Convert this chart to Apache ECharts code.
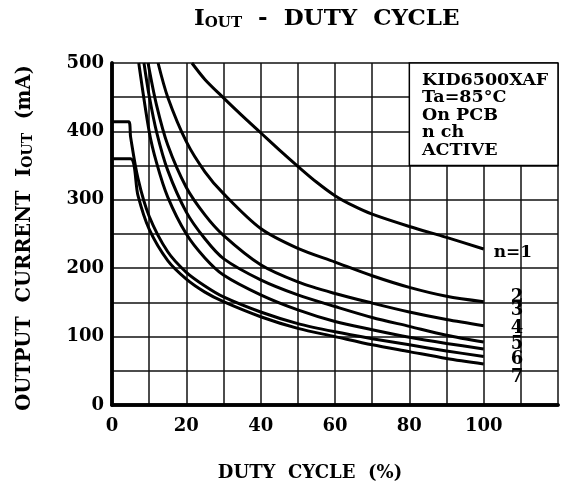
<!DOCTYPE html>
<html>
<head>
<meta charset="utf-8">
<script src="https://cdn.jsdelivr.net/npm/echarts@6/dist/echarts.min.js"></script>
<style>
html,body{margin:0;padding:0;background:#fff}
#chart{width:562px;height:490px}
</style>
</head>
<body>
<div id="chart"></div>
<script>
// curve data (duty %, mA)
var duty1 = [21.5, 25, 30, 35, 40, 45, 50, 55, 60, 65, 70, 80, 90, 100];
var iout1 = [500, 476, 449, 423, 398, 373, 349, 326, 306, 291, 279, 261, 245, 228];
var duty2 = [12.4, 15, 20, 25, 30, 40, 50, 60, 70, 80, 90, 100];
var iout2 = [500, 450, 385, 341, 309, 258, 229, 209, 189, 172, 159, 151];
var duty3 = [9.7, 12, 15, 20, 25, 30, 40, 50, 60, 70, 80, 90, 100];
var iout3 = [500, 438, 380, 318, 278, 248, 205, 180, 163, 149, 136, 125, 116];
var duty4 = [8.6, 10, 12, 15, 20, 25, 30, 40, 50, 60, 70, 80, 90, 100];
var iout4 = [500, 452, 399, 343, 282, 243, 214, 183, 161, 144, 128, 115, 102, 92];
var duty5 = [7.2, 10, 12, 15, 20, 25, 30, 40, 50, 60, 70, 80, 90, 100];
var iout5 = [500, 400, 354, 304, 250, 215, 190, 161, 139, 122, 110, 99, 90, 82];
var duty6 = [0, 4.5, 5, 7, 10, 15, 20, 25, 30, 40, 50, 60, 70, 80, 90, 100];
var iout6 = [414, 414, 392, 331, 276, 224, 194, 174, 158, 136, 119, 107, 97, 88, 79, 71];
var duty7 = [0, 5, 7, 10, 15, 20, 25, 30, 40, 50, 60, 70, 80, 90, 100];
var iout7 = [360, 360, 306, 257, 211, 184, 165, 151, 129, 112, 100, 88, 78, 68, 60];

var curveLabels = ['n=1', '2', '3', '4', '5', '6', '7'];
var xLabelTicks = [0, 20, 40, 60, 80, 100];
var yLabelTicks = [0, 100, 200, 300, 400, 500];
var noteLines = ['KID6500XAF', 'Ta=85°C', 'On PCB', 'n ch', 'ACTIVE'];

var allDuty = [duty1, duty2, duty3, duty4, duty5, duty6, duty7];
var allIout = [iout1, iout2, iout3, iout4, iout5, iout6, iout7];

var FONT = 'DejaVu Serif';
// where each end label sits relative to the curve end
var labelOffsets = [[2, 4], [19, -4], [19, -15], [19, -14], [19, -5], [19, 3], [19, 13]];

function pairs(xs, ys) {
	return xs.map(function (x, i) { return [x, ys[i]]; });
}

var series = [];
for (var k = 0; k < allDuty.length; k++) {
	var s = {
		type: 'line',
		data: pairs(allDuty[k], allIout[k]),
		showSymbol: false,
		smooth: 0.3,
		lineStyle: { color: '#000', width: 3 },
		endLabel: {
			show: true,
			formatter: curveLabels[k],
			offset: labelOffsets[k],
			fontFamily: FONT,
			fontWeight: 'bold',
			fontSize: k == 0 ? 17 : 18,
			color: '#000'
		},
		animation: false
	};
	if (k == 0) {
		// white note box in the upper right
		s.markArea = {
			silent: true,
			itemStyle: { color: '#fff', borderColor: '#000', borderWidth: 1.5 },
			data: [[{ coord: [80, 350] }, { coord: [120, 500] }]]
		};
	}
	series.push(s);
}

var myChart = echarts.init(document.getElementById('chart'));
var option = {
	backgroundColor: '#fff',
	animation: false,
	title: {
		text: '{a|I}{b|OUT}{a|  -  DUTY  CYCLE}',
		left: 189,
		top: 3,
		textStyle: {
			rich: {
				a: { fontFamily: FONT, fontWeight: 'bold', fontSize: 23, color: '#000' },
				b: { fontFamily: FONT, fontWeight: 'bold', fontSize: 15, color: '#000', verticalAlign: 'bottom', padding: [8, 0, 0, 0] }
			}
		}
	},
	grid: { left: 112, right: 4, top: 63, bottom: 85 },
	xAxis: [{
		type: 'value', min: 0, max: 120, interval: 10,
		axisLine: { lineStyle: { color: '#000', width: 3.5 } },
		axisTick: { show: false },
		axisLabel: {
			margin: 12, color: '#000', fontFamily: FONT, fontWeight: 'bold', fontSize: 18,
			formatter: function (v) { return xLabelTicks.indexOf(v) >= 0 ? String(v) : ''; }
		},
		splitLine: { show: true, lineStyle: { color: '#111', width: 1.5 } }
	}, {
		type: 'value', min: 0, max: 120, position: 'top', z: 10,
		axisLine: { show: true, lineStyle: { color: '#000', width: 3.5 } },
		axisTick: { show: false }, axisLabel: { show: false }, splitLine: { show: false }
	}],
	yAxis: [{
		type: 'value', min: 0, max: 500, interval: 50,
		axisLine: { show: true, lineStyle: { color: '#000', width: 3.5 } },
		axisTick: { show: false },
		axisLabel: {
			margin: 8, color: '#000', fontFamily: FONT, fontWeight: 'bold', fontSize: 18,
			formatter: function (v) { return yLabelTicks.indexOf(v) >= 0 ? String(v) : ''; }
		},
		splitLine: { show: true, lineStyle: { color: '#111', width: 1.5 } }
	}, {
		type: 'value', min: 0, max: 500, position: 'right', z: 10,
		axisLine: { show: true, lineStyle: { color: '#000', width: 3.5 } },
		axisTick: { show: false }, axisLabel: { show: false }, splitLine: { show: false }
	}],
	graphic: [{
		type: 'text', left: 422, top: 71, z: 20,
		style: {
			text: noteLines.join('\n'),
			fontFamily: FONT, fontWeight: 'bold', fontSize: 17.5, lineHeight: 17.5,
			fill: '#000'
		}
	}, {
		type: 'text', x: 25, y: 238, rotation: Math.PI / 2, z: 20,
		style: {
			text: '{a|OUTPUT  CURRENT  I}{b|OUT}{a|  (mA)}',
			align: 'center', verticalAlign: 'middle',
			rich: {
				a: { fontFamily: FONT, fontWeight: 'bold', fontSize: 19.5, fill: '#000' },
				b: { fontFamily: FONT, fontWeight: 'bold', fontSize: 14, fill: '#000', verticalAlign: 'bottom', padding: [6, 0, 0, 0] }
			}
		}
	}, {
		type: 'text', x: 310, y: 473, z: 20,
		style: {
			text: 'DUTY  CYCLE  (%)',
			align: 'center', verticalAlign: 'middle',
			fontFamily: FONT, fontWeight: 'bold', fontSize: 18, fill: '#000'
		}
	}],
	series: series
};
myChart.setOption(option);
</script>
</body>
</html>
